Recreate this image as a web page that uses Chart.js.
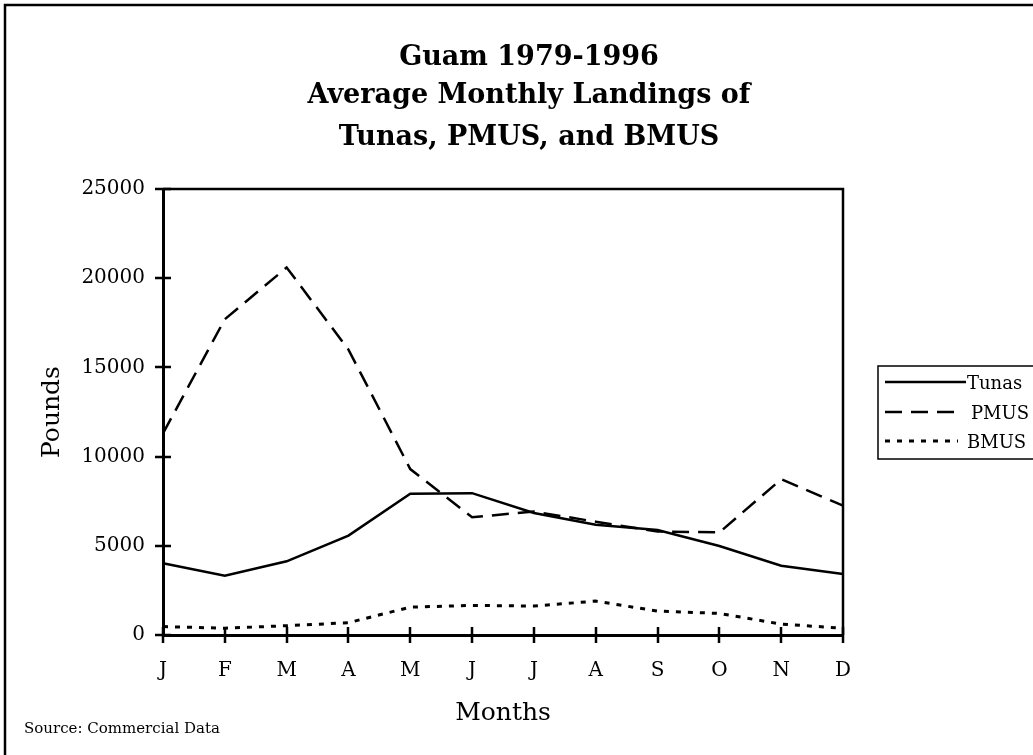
<!DOCTYPE html>
<html>
<head>
<meta charset="utf-8">
<title>Guam Average Monthly Landings</title>
<script src="https://cdn.jsdelivr.net/npm/chart.js@4/dist/chart.umd.min.js"></script>
<style>
  html, body { margin: 0; padding: 0; background: #fff; }
  #wrap { width: 1033px; height: 755px; }
</style>
</head>
<body>
<div id="wrap"><canvas id="landings" width="1033" height="755"></canvas></div>
<script>
// monthly averages, pounds
var months = ["J", "F", "M", "A", "M", "J", "J", "A", "S", "O", "N", "D"];
var tunas = [4020, 3320, 4130, 5570, 7920, 7950, 6840, 6180, 5880, 4990, 3880, 3420];
var pmus = [11300, 17700, 20600, 16000, 9300, 6600, 6920, 6350, 5800, 5750, 8730, 7250];
var bmus = [470, 380, 520, 690, 1560, 1660, 1620, 1900, 1340, 1210, 610, 380];
var seriesNames = ["Tunas", "PMUS", "BMUS"];
var yTicks = [0, 5000, 10000, 15000, 20000, 25000];

var titleLines = ["Guam 1979-1996", "Average Monthly Landings of", "Tunas, PMUS, and BMUS"];
var serif = "'DejaVu Serif', 'Liberation Serif', serif";

// frame, titles, crossing tick marks, top/right edges and the boxed legend
var decorations = {
  id: "decorations",
  afterDraw: function (chart) {
    var ctx = chart.ctx;
    var area = chart.chartArea;
    var xs = chart.scales.x;
    var ys = chart.scales.y;
    ctx.save();

    // outer frame (only top and left edges show)
    ctx.strokeStyle = "#000";
    ctx.lineWidth = 2.5;
    ctx.beginPath();
    ctx.moveTo(5, 760);
    ctx.lineTo(5, 5);
    ctx.lineTo(1040, 5);
    ctx.stroke();

    // plot box top and right
    ctx.lineWidth = 2.5;
    ctx.beginPath();
    ctx.moveTo(area.left, area.top);
    ctx.lineTo(area.right, area.top);
    ctx.lineTo(area.right, area.bottom);
    ctx.stroke();

    // tick marks crossing the axes
    ctx.lineWidth = 2.5;
    ctx.beginPath();
    for (var i = 0; i < ys.ticks.length; i++) {
      var py = Math.round(ys.getPixelForTick(i));
      ctx.moveTo(area.left - 8, py);
      ctx.lineTo(area.left + 8, py);
    }
    for (var j = 0; j < xs.ticks.length; j++) {
      var px = Math.round(xs.getPixelForTick(j));
      ctx.moveTo(px, area.bottom - 8);
      ctx.lineTo(px, area.bottom + 8);
    }
    ctx.stroke();

    // chart title
    ctx.fillStyle = "#000";
    ctx.textAlign = "center";
    ctx.textBaseline = "alphabetic";
    ctx.font = "bold 27px " + serif;
    var baselines = [65, 103, 145];
    for (var k = 0; k < titleLines.length; k++) {
      ctx.fillText(titleLines[k], 529, baselines[k]);
    }

    // axis titles
    ctx.font = "25px " + serif;
    ctx.fillText("Months", (area.left + area.right) / 2, 720);
    ctx.save();
    ctx.translate(59, (area.top + area.bottom) / 2);
    ctx.rotate(-Math.PI / 2);
    ctx.fillText("Pounds", 0, 0);
    ctx.restore();

    // source note
    ctx.textAlign = "left";
    ctx.font = "15px " + serif;
    ctx.fillText("Source: Commercial Data", 24, 733);

    // legend
    ctx.lineWidth = 1.5;
    ctx.setLineDash([]);
    ctx.strokeRect(878, 366, 156, 93);
    ctx.font = "18px " + serif;
    ctx.textBaseline = "middle";
    var rows = [382, 412, 441];
    chart.data.datasets.forEach(function (ds, n) {
      var dashed = ds.borderDash && ds.borderDash.length;
      ctx.save();
      ctx.beginPath();
      ctx.rect(883, rows[n] - 5, dashed ? 75 : 84, 10);
      ctx.clip();
      ctx.strokeStyle = ds.borderColor;
      ctx.lineWidth = ds.borderWidth;
      ctx.setLineDash(ds.borderDash || []);
      ctx.beginPath();
      ctx.moveTo(885, rows[n]);
      ctx.lineTo(966, rows[n]);
      ctx.stroke();
      ctx.restore();
      ctx.fillText(ds.label, n === 1 ? 971 : 967, rows[n] + 2);
    });

    ctx.restore();
  }
};

var ctx = document.getElementById("landings").getContext("2d");
var myChart = new Chart(ctx, {
  type: "line",
  data: {
    labels: months,
    datasets: [{
      label: seriesNames[0],
      data: tunas,
      borderColor: "#000",
      borderWidth: 2.5,
      borderDash: [],
      pointRadius: 0,
      tension: 0,
      fill: false
    }, {
      label: seriesNames[1],
      data: pmus,
      borderColor: "#000",
      borderWidth: 2.5,
      borderDash: [17, 9],
      pointRadius: 0,
      tension: 0,
      fill: false
    }, {
      label: seriesNames[2],
      data: bmus,
      borderColor: "#000",
      borderWidth: 3,
      borderDash: [5, 7],
      pointRadius: 0,
      tension: 0,
      fill: false
    }]
  },
  options: {
    responsive: false,
    animation: false,
    devicePixelRatio: 1,
    layout: { padding: { left: 0, top: 189, right: 190, bottom: 0 } },
    plugins: {
      legend: { display: false },
      title: { display: false },
      tooltip: { enabled: false }
    },
    scales: {
      x: {
        offset: false,
        grid: { display: false, drawTicks: false },
        border: { display: true, color: "#000", width: 3 },
        ticks: { color: "#000", font: { family: serif, size: 20 }, padding: 24, maxRotation: 0, autoSkip: false },
        afterFit: function (scale) { scale.height = 120; }
      },
      y: {
        min: 0,
        max: 25000,
        afterBuildTicks: function (scale) {
          scale.ticks = yTicks.map(function (v) { return { value: v }; });
        },
        grid: { display: false, drawTicks: false },
        border: { display: true, color: "#000", width: 3 },
        ticks: {
          color: "#000",
          font: { family: serif, size: 20 },
          padding: 18,
          callback: function (value) { return String(value); }
        },
        afterFit: function (scale) { scale.width = 163; }
      }
    }
  },
  plugins: [decorations]
});
</script>
</body>
</html>
